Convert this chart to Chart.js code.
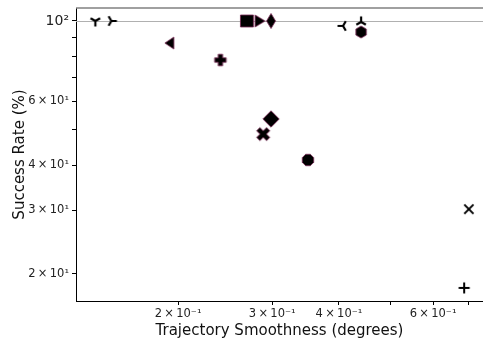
<!DOCTYPE html>
<html>
<head>
<meta charset="utf-8">
<script src="https://cdn.jsdelivr.net/npm/chart.js@4"></script>
<style>
  html, body { margin: 0; padding: 0; background: #fff; }
  #wrap { width: 483px; height: 345px; }
</style>
</head>
<body>
<div id="wrap"><canvas id="chart" width="483" height="345"></canvas></div>
<script>
// data
const smoothness = [0.140, 0.150, 0.193, 0.240, 0.269, 0.284, 0.2985, 0.407, 0.440, 0.440, 0.2985, 0.2886, 0.350, 0.700, 0.686];
const successRate = [100, 100, 86.9, 78.0, 100, 100, 100, 96.9, 99.4, 93.2, 53.6, 48.7, 41.3, 30.2, 18.3];
const markers = ['tri_down', 'tri_right', 'tri_left_fill', 'plus_fill', 'square', 'tri_right_fill', 'thin_diamond',
                 'tri_left', 'tri_up', 'hexagon', 'diamond', 'x_fill', 'octagon', 'x', 'plus'];

// ticks
const xTicks = [0.2, 0.3, 0.4, 0.5, 0.6, 0.7];
const xTickLabels = ['2\u2009×\u200910⁻¹', '3\u2009×\u200910⁻¹', '4\u2009×\u200910⁻¹', '', '6\u2009×\u200910⁻¹', ''];
const yTicks = [20, 30, 40, 50, 60, 70, 80, 90, 100];
const yTickLabels = ['2\u2009×\u200910¹', '3\u2009×\u200910¹', '4\u2009×\u200910¹', '', '6\u2009×\u200910¹', '', '', '', '10²'];

const EDGE = '#7a2a55';

// build a marker image on a small canvas
function makeMarker(kind) {
  const s = 20;
  const c = document.createElement('canvas');
  c.width = s; c.height = s;
  const g = c.getContext('2d');
  g.translate(s / 2, s / 2);
  g.fillStyle = '#000';
  g.strokeStyle = EDGE;
  g.lineWidth = 0.8;
  g.lineJoin = 'miter';

  function poly(pts) {
    g.beginPath();
    pts.forEach((p, i) => i ? g.lineTo(p[0], p[1]) : g.moveTo(p[0], p[1]));
    g.closePath();
    g.fill();
    g.stroke();
  }
  function tri(angles, r) {
    // three armed marker, arms drawn as thick strokes
    g.strokeStyle = '#000';
    g.lineWidth = 2.2;
    g.lineCap = 'butt';
    g.beginPath();
    angles.forEach(a => {
      const t = a * Math.PI / 180;
      g.moveTo(0, 0);
      g.lineTo(r * Math.cos(t), -r * Math.sin(t));
    });
    g.stroke();
  }
  function regular(n, r, rot) {
    const pts = [];
    for (let i = 0; i < n; i++) {
      const t = rot + i * 2 * Math.PI / n;
      pts.push([r * Math.cos(t), r * Math.sin(t)]);
    }
    poly(pts);
  }

  if (kind === 'tri_down') tri([90, 210, 330].map(a => a + 180), 5.5);
  if (kind === 'tri_up') tri([90, 210, 330], 5.5);
  if (kind === 'tri_left') tri([180, 300, 60], 5.5);
  if (kind === 'tri_right') tri([0, 120, 240], 5.5);
  if (kind === 'tri_left_fill') poly([[-5, 0], [4, -6], [4, 6]]);
  if (kind === 'tri_right_fill') poly([[5.5, 0], [-4.5, -6], [-4.5, 6]]);
  if (kind === 'square') poly([[-6.5, -6], [6.5, -6], [6.5, 6], [-6.5, 6]]);
  if (kind === 'thin_diamond') poly([[0, -7.5], [4.5, 0], [0, 7.5], [-4.5, 0]]);
  if (kind === 'diamond') poly([[0, -8.2], [8.2, 0], [0, 8.2], [-8.2, 0]]);
  if (kind === 'hexagon') regular(6, 6, -Math.PI / 2);
  if (kind === 'octagon') regular(8, 6.2, Math.PI / 8);
  if (kind === 'plus_fill') {
    const a = 2.2, b = 5.8;
    poly([[-a, -b], [a, -b], [a, -a], [b, -a], [b, a], [a, a], [a, b], [-a, b], [-a, a], [-b, a], [-b, -a], [-a, -a]]);
  }
  if (kind === 'x_fill') {
    g.rotate(Math.PI / 4);
    const a = 2.3, b = 7;
    poly([[-a, -b], [a, -b], [a, -a], [b, -a], [b, a], [a, a], [a, b], [-a, b], [-a, a], [-b, a], [-b, -a], [-a, -a]]);
  }
  if (kind === 'x' || kind === 'plus') {
    g.strokeStyle = '#000';
    g.lineWidth = 2;
    if (kind === 'x') g.rotate(Math.PI / 4);
    const r = kind === 'x' ? 6.5 : 5.5;
    g.beginPath();
    g.moveTo(-r, 0); g.lineTo(r, 0);
    g.moveTo(0, -r); g.lineTo(0, r);
    g.stroke();
  }
  return c;
}

const markerImages = markers.map(makeMarker);

// points built from the arrays
const points = smoothness.map((x, i) => ({ x: x, y: successRate[i] }));

// horizontal reference line at 100 and top spine
const refLine = {
  id: 'refLine',
  beforeDatasetsDraw(chart) {
    const { ctx, chartArea, scales } = chart;
    const y = Math.round(scales.y.getPixelForValue(100)) + 0.5;
    ctx.save();
    ctx.strokeStyle = '#b0b0b0';
    ctx.lineWidth = 1;
    ctx.beginPath();
    ctx.moveTo(chartArea.left, y);
    ctx.lineTo(chartArea.right, y);
    ctx.stroke();
    ctx.strokeStyle = '#808080';
    ctx.lineWidth = 1.5;
    ctx.beginPath();
    ctx.moveTo(chartArea.left, chartArea.top);
    ctx.lineTo(chartArea.right, chartArea.top);
    ctx.stroke();
    ctx.restore();
  }
};

const font = 'DejaVu Sans';

new Chart(document.getElementById('chart'), {
  type: 'scatter',
  data: {
    datasets: [{
      data: points,
      pointStyle: markerImages,
      pointRadius: 7,
      pointHoverRadius: 7
    }]
  },
  options: {
    responsive: false,
    animation: false,
    events: [],
    layout: { autoPadding: false, padding: { top: 8, right: 0, left: 0, bottom: 0 } },
    plugins: { legend: { display: false }, tooltip: { enabled: false } },
    scales: {
      x: {
        type: 'logarithmic',
        min: 0.1288,
        max: 0.744,
        afterBuildTicks: scale => { scale.ticks = xTicks.map(v => ({ value: v })); },
        afterFit: scale => {
          scale.height = 44;
          scale.paddingLeft = 0;
          scale.paddingRight = 0;
        },
        ticks: {
          autoSkip: false,
          maxRotation: 0,
          padding: 2,
          color: '#222',
          font: { family: font, size: 11.5 },
          callback: (v, i) => xTickLabels[i]
        },
        grid: { drawOnChartArea: false, drawTicks: true, tickLength: 4, color: '#000' },
        border: { display: true, color: '#000', width: 1 },
        title: {
          display: true,
          text: 'Trajectory Smoothness (degrees)',
          color: '#111',
          font: { family: font, size: 15 },
          padding: { top: 0, bottom: 5 }
        }
      },
      y: {
        type: 'logarithmic',
        min: 16.84,
        max: 108.6,
        afterBuildTicks: scale => { scale.ticks = yTicks.map(v => ({ value: v })); },
        afterFit: scale => {
          scale.width = 76;
          scale.paddingTop = 0;
          scale.paddingBottom = 0;
        },
        ticks: {
          autoSkip: false,
          padding: 3,
          color: '#222',
          font: ctx => ({ family: font, size: ctx.index === yTicks.length - 1 ? 14 : 11.5 }),
          callback: (v, i) => yTickLabels[i]
        },
        grid: { drawOnChartArea: false, drawTicks: true, tickLength: 4, color: '#000' },
        border: { display: true, color: '#000', width: 1 },
        title: {
          display: true,
          text: 'Success Rate (%)',
          color: '#111',
          font: { family: font, size: 15 },
          padding: { top: 11, bottom: 0 }
        }
      }
    }
  },
  plugins: [refLine]
});
</script>
</body>
</html>
